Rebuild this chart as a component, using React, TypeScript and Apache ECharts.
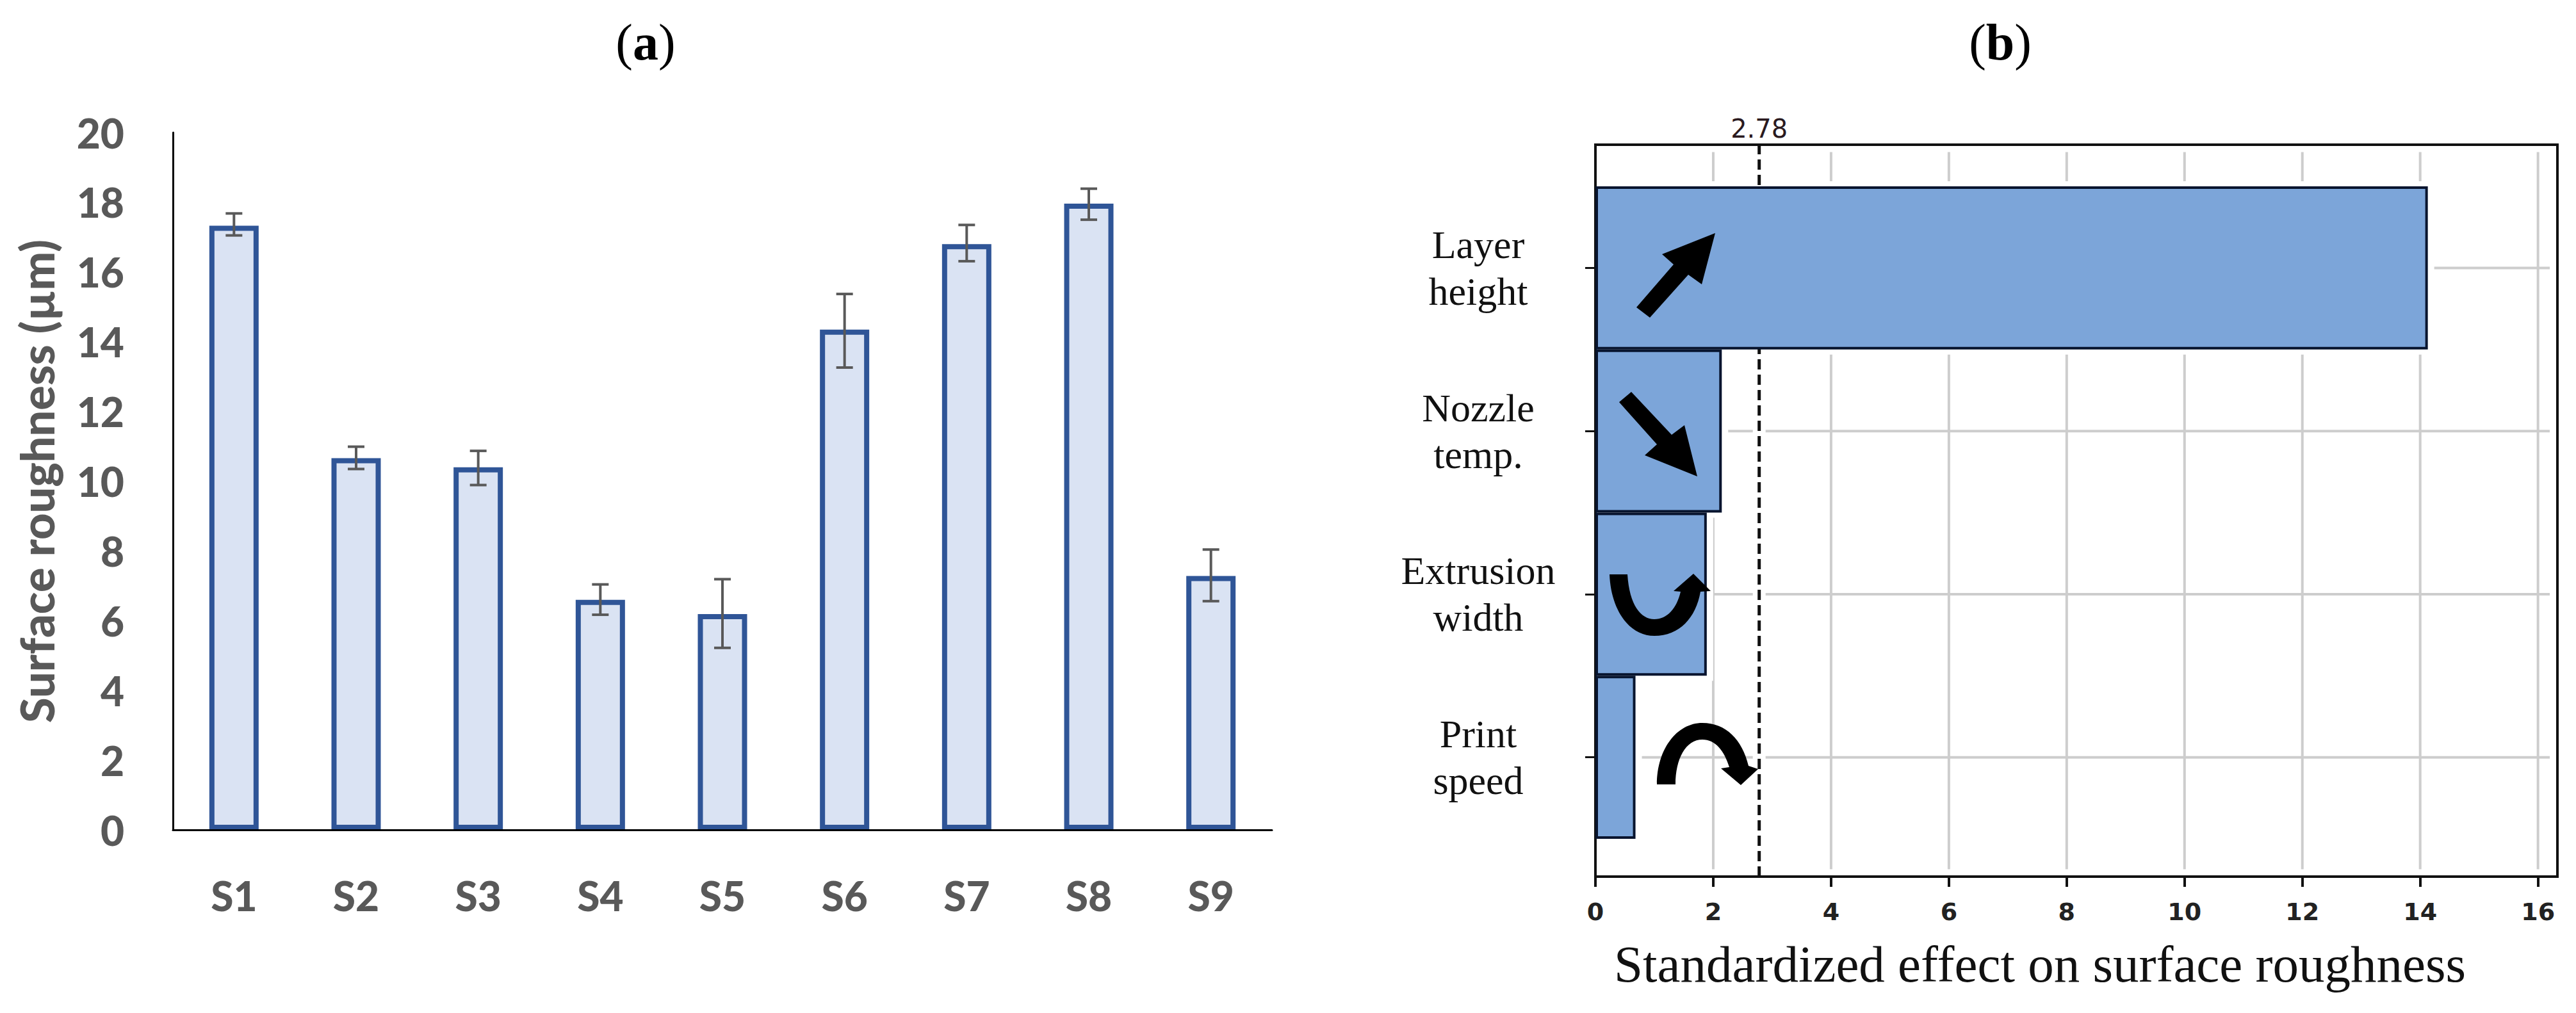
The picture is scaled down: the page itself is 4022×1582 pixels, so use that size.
import React, { useEffect, useRef } from "react";
import * as echarts from "echarts";

const sampleNames = ["S1", "S2", "S3", "S4", "S5", "S6", "S7", "S8", "S9"];
const roughness = [17.33, 10.66, 10.4, 6.6, 6.19, 14.35, 16.8, 17.96, 7.28];
const roughnessLow = [17.05, 10.35, 9.89, 6.17, 5.22, 13.26, 16.31, 17.5, 6.56];
const roughnessHigh = [17.68, 10.99, 10.87, 7.04, 7.19, 15.37, 17.35, 18.39, 8.04];

const factorNames = ["Layer\nheight", "Nozzle\ntemp.", "Extrusion\nwidth", "Print\nspeed"];
const effects = [14.13, 2.145, 1.89, 0.68];
const threshold = 2.78;
const effectTicks = [0, 2, 4, 6, 8, 10, 12, 14, 16];

const curveUp =
  "M2513 897 L2541 897 C2544 945 2562 967 2583 967 C2603 967 2618 950 2624 924 L2613 923 L2644 896 L2671 923 L2655 924 C2648 965 2622 993 2583 993 C2542 993 2515 950 2513 897 Z";
const curveDown =
  "M2587 1225 L2616 1225 C2616 1185 2632 1155 2658 1155 C2678 1155 2692 1172 2700 1198 L2687 1200 L2718 1226 L2745 1201 L2730 1196 C2720 1155 2695 1129 2658 1129 C2618 1129 2587 1170 2587 1225 Z";

echarts.graphic.registerShape("curveUp", echarts.graphic.extendPath(curveUp, {}));
echarts.graphic.registerShape("curveDown", echarts.graphic.extendPath(curveDown, {}));

const GREY = "#595959";
const SERIF = "Liberation Serif";
const SANS = "Lato";
const MPL = "DejaVu Sans";

const GRIDLINE = { stroke: "#cdcdcd", lineWidth: 4 };

function buildOption(): any {
  return {
    animation: false,
    backgroundColor: "#ffffff",
    grid: [
      { left: 270, top: 207, width: 1716, height: 1089 },
      { left: 2491, top: 226, width: 1502, height: 1143, show: true, borderColor: "#111111", borderWidth: 4, backgroundColor: "transparent" },
      { left: 2491, top: 291, width: 1502, height: 1019 },
    ],
    xAxis: [
      {
        gridIndex: 0,
        type: "category",
        data: sampleNames,
        z: 6,
        axisLine: { show: true, lineStyle: { color: "#000000", width: 3 } },
        axisTick: { show: false },
        axisLabel: { color: GREY, fontFamily: SANS, fontWeight: 900, fontSize: 64, margin: 70 },
      },
      {
        gridIndex: 1,
        type: "value",
        min: 0,
        max: 16.33,
        interval: 2,
        axisLine: { show: false },
        axisTick: { show: true, length: 16, customValues: effectTicks, lineStyle: { color: "#111111", width: 4 } },
        splitLine: { show: false },
        axisLabel: { color: "#222222", fontFamily: MPL, fontWeight: "bold", fontSize: 38, margin: 36, customValues: effectTicks },
      },
      { gridIndex: 2, type: "value", min: 0, max: 16.33, show: false },
    ],
    yAxis: [
      {
        gridIndex: 0,
        type: "value",
        min: 0,
        max: 20,
        interval: 2,
        z: 6,
        name: "Surface roughness (µm)",
        nameLocation: "middle",
        nameGap: 213,
        nameRotate: 90,
        nameTextStyle: { color: GREY, fontFamily: SANS, fontWeight: 900, fontSize: 72, verticalAlign: "middle" },
        axisLine: { show: true, lineStyle: { color: "#000000", width: 3 } },
        axisTick: { show: false },
        splitLine: { show: false },
        axisLabel: { color: GREY, fontFamily: SANS, fontWeight: 900, fontSize: 64, margin: 76 },
      },
      { gridIndex: 1, type: "value", min: 0, max: 1, show: false },
      {
        gridIndex: 2,
        type: "category",
        data: factorNames,
        inverse: true,
        axisLine: { show: false },
        axisTick: { show: true, alignWithLabel: true, length: 16, lineStyle: { color: "#111111", width: 3 } },
        axisLabel: { color: "#111111", fontFamily: SERIF, fontSize: 62, lineHeight: 73, align: "center", margin: 183 },
      },
    ],
    series: [
      {
        type: "bar",
        xAxisIndex: 0,
        yAxisIndex: 0,
        data: roughness,
        barWidth: 77,
        z: 2,
        itemStyle: { color: "#dae3f3", borderColor: "#2f5597", borderWidth: 8 },
      },
      {
        type: "custom",
        xAxisIndex: 0,
        yAxisIndex: 0,
        z: 4,
        data: sampleNames.map((_, i) => [i, roughnessLow[i], roughnessHigh[i]]),
        encode: { x: 0, y: [1, 2] },
        renderItem: (_p: any, api: any) => {
          const lo = api.coord([api.value(0), api.value(1)]);
          const hi = api.coord([api.value(0), api.value(2)]);
          const cap = 13;
          const style = { stroke: "#595959", lineWidth: 4, fill: "none" };
          return {
            type: "group",
            children: [
              { type: "line", shape: { x1: lo[0], y1: lo[1], x2: hi[0], y2: hi[1] }, style },
              { type: "line", shape: { x1: lo[0] - cap, y1: lo[1], x2: lo[0] + cap, y2: lo[1] }, style },
              { type: "line", shape: { x1: hi[0] - cap, y1: hi[1], x2: hi[0] + cap, y2: hi[1] }, style },
            ],
          };
        },
      },
      {
        type: "custom",
        xAxisIndex: 1,
        yAxisIndex: 1,
        z: 1,
        clip: false,
        data: effectTicks.filter((t) => t > 0).map((t) => [t]),
        encode: { x: 0 },
        renderItem: (_p: any, api: any) => {
          const a = api.coord([api.value(0), 0.01]);
          const b = api.coord([api.value(0), 0.99]);
          return { type: "line", shape: { x1: a[0], y1: a[1], x2: b[0], y2: b[1] }, style: GRIDLINE };
        },
      },
      {
        type: "custom",
        xAxisIndex: 2,
        yAxisIndex: 2,
        z: 1,
        clip: false,
        data: effects.map((v, i) => [v, i]),
        encode: { x: 0, y: 1 },
        renderItem: (_p: any, api: any) => {
          const a = api.coord([api.value(0), api.value(1)]);
          const b = api.coord([16.2, api.value(1)]);
          return { type: "line", shape: { x1: a[0], y1: a[1], x2: b[0], y2: b[1] }, style: GRIDLINE };
        },
      },
      {
        type: "custom",
        xAxisIndex: 2,
        yAxisIndex: 2,
        z: 2,
        clip: false,
        data: effects.map((v, i) => [v, i]),
        encode: { x: 0, y: 1 },
        renderItem: (_p: any, api: any) => {
          const end = api.coord([api.value(0), api.value(1)]);
          const start = api.coord([0, api.value(1)]);
          const h = api.size([0, 1])[1];
          return {
            type: "rect",
            shape: { x: start[0] + 3, y: end[1] - h / 2 - 8, width: end[0] - start[0] + 7, height: h + 16 },
            style: { fill: "#ffffff" },
          };
        },
      },
      {
        type: "custom",
        xAxisIndex: 1,
        yAxisIndex: 1,
        z: 3,
        clip: false,
        data: [[threshold]],
        encode: { x: 0 },
        renderItem: (_p: any, api: any) => {
          const a = api.coord([api.value(0), 0]);
          const b = api.coord([api.value(0), 1]);
          return {
            type: "group",
            children: [
              { type: "line", shape: { x1: a[0], y1: a[1] - 3, x2: b[0], y2: b[1] + 3 }, style: { stroke: "#ffffff", lineWidth: 20 } },
              { type: "line", shape: { x1: a[0], y1: a[1], x2: b[0], y2: b[1] }, style: { stroke: "#111111", lineWidth: 5, lineDash: [16, 8] } },
              {
                type: "text",
                style: {
                  x: b[0],
                  y: b[1] - 25,
                  text: String(api.value(0)),
                  fill: "#2a1a1f",
                  font: `40px '${MPL}'`,
                  align: "center",
                  verticalAlign: "middle",
                },
              },
            ],
          };
        },
      },
      {
        type: "bar",
        xAxisIndex: 2,
        yAxisIndex: 2,
        data: effects,
        barWidth: "100%",
        z: 4,
        itemStyle: { color: "#7ca5d9", borderColor: "#07142e", borderWidth: 4 },
      },
    ],
    graphic: [
      {
        type: "text",
        x: 1008,
        y: 66,
        style: {
          text: "({b|a})",
          rich: { b: { fontWeight: "bold", fontFamily: SERIF, fontSize: 80, fill: "#000000" } },
          font: `80px '${SERIF}'`,
          fill: "#000000",
          align: "center",
          verticalAlign: "middle",
        },
      },
      {
        type: "text",
        x: 3123,
        y: 66,
        style: {
          text: "({b|b})",
          rich: { b: { fontWeight: "bold", fontFamily: SERIF, fontSize: 80, fill: "#000000" } },
          font: `80px '${SERIF}'`,
          fill: "#000000",
          align: "center",
          verticalAlign: "middle",
        },
      },
      {
        type: "text",
        x: 3185,
        y: 1506,
        style: {
          text: "Standardized effect on surface roughness",
          font: `81px '${SERIF}'`,
          fill: "#111111",
          align: "center",
          verticalAlign: "middle",
        },
      },
      {
        type: "polygon",
        z: 20,
        shape: { points: [[2678, 364], [2657, 444], [2636, 429], [2576, 496], [2555, 480], [2613, 413], [2595, 397]] },
        style: { fill: "#000000" },
      },
      {
        type: "polygon",
        z: 20,
        shape: { points: [[2528, 628], [2547, 612], [2610, 679], [2630, 664], [2650, 744], [2568, 711], [2587, 694]] },
        style: { fill: "#000000" },
      },
      { type: "curveUp", z: 20, x: 0, y: 0, style: { fill: "#000000" } },
      { type: "curveDown", z: 20, x: 0, y: 0, style: { fill: "#000000" } },
    ],
  };
}

export default function App() {
  const ref = useRef<HTMLDivElement>(null);
  useEffect(() => {
    document.body.style.margin = "0";
    const chart = echarts.init(ref.current!, undefined, { renderer: "svg" });
    chart.setOption(buildOption());
    return () => chart.dispose();
  }, []);
  return <div ref={ref} style={{ width: 4022, height: 1582 }} />;
}
